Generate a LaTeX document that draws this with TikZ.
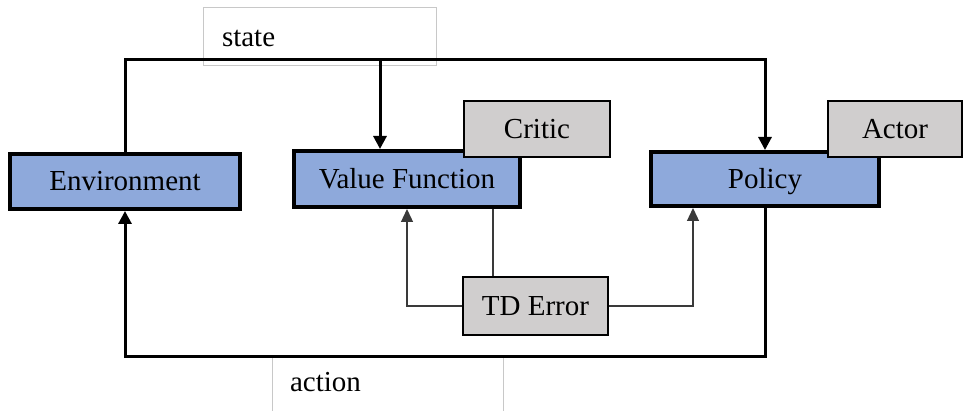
\documentclass[tikz,border=0pt]{standalone}
\usepackage{fontspec}
\setmainfont{Liberation Serif}
\usetikzlibrary{arrows.meta}
\definecolor{bluefill}{HTML}{8EA9DB}
\definecolor{grayfill}{HTML}{D0CECE}
\definecolor{labelgray}{HTML}{C8C8C8}
\definecolor{thinline}{HTML}{3A3A3A}
\begin{document}
\begin{tikzpicture}[x=1pt,y=-1pt,
  every node/.style={font=\fontsize{29}{33}\selectfont, inner sep=0pt, text height=21pt, text depth=2pt},
  bluebox/.style={draw=black, line width=4pt, fill=bluefill, rectangle},
  graybox/.style={draw=black, line width=2pt, fill=grayfill, rectangle},
  labelbox/.style={draw=labelgray, line width=1pt, fill=white, rectangle},
  mainline/.style={draw=black, line width=3pt},
  thinconn/.style={draw=thinline, line width=1.3pt},
  tip/.style={-{Triangle[length=13pt,width=13pt]}},
  thintip/.style={-{Triangle[length=13pt,width=12pt]}}
]
\useasboundingbox (0,0) rectangle (965,411);
\fill[white] (0,0) rectangle (965,411);

% label boxes
\node[labelbox, minimum width=233pt, minimum height=58pt, text width=195pt, align=left] (st) at (319.5,37) {state};
\node[minimum width=230pt, minimum height=52pt, text width=196pt, align=left] (act) at (388,382) {action};
\draw[labelgray, line width=1pt] (act.north west) -- ++(0,60);
\draw[labelgray, line width=1pt] (act.north east) -- ++(0,60);

% main boxes
\node[bluebox, minimum width=230pt, minimum height=55pt] (env) at (125,181.5) {Environment};
\node[bluebox, minimum width=226pt, minimum height=56pt] (vf) at (407,179) {Value Function};
\node[bluebox, minimum width=228pt, minimum height=54pt] (pol) at (765,179) {Policy};
\node[graybox, minimum width=146pt, minimum height=56pt] (critic) at (537,129) {Critic};
\node[graybox, minimum width=134pt, minimum height=56pt] (actor) at (895,129) {Actor};
\node[graybox, minimum width=145pt, minimum height=58pt] (td) at (535.5,306) {TD Error};

% state loop
\coordinate (sj) at (380,60);
\draw[mainline, tip] (env.north) -- (env.north |- sj) -- (pol.north |- sj) -- (pol.north);
\draw[mainline, tip] (sj) -- (sj |- vf.north);

% action loop
\coordinate (aj) at (0,356);
\draw[mainline, tip] (pol.south) -- (pol.south |- aj) -- (env.south |- aj) -- (env.south);

% TD error connections
\draw[thinconn, thintip] (td.west) -| (vf.south -| 407,0);
\draw[thinconn] (td.north -| 493,0) -- (vf.south -| 493,0);
\draw[thinconn, thintip] (td.east) -| (pol.south -| 693,0);
\end{tikzpicture}
\end{document}
